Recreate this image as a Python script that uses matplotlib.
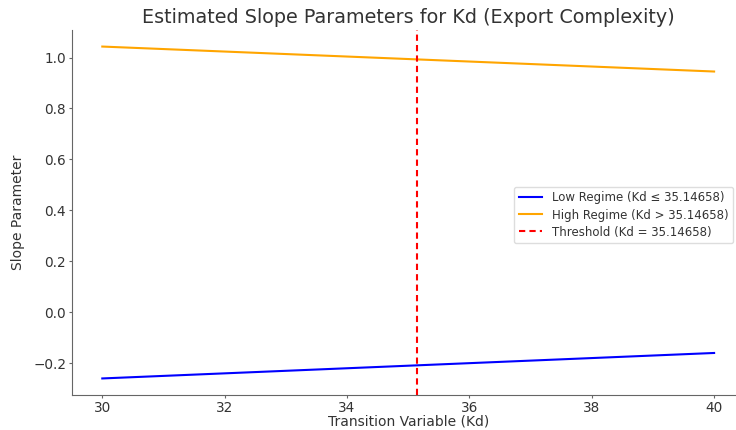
import matplotlib
matplotlib.use('agg')
import matplotlib.pyplot as plt

# values
threshold = 35.14658
kd_range = [30, 40]
low_slope = [-0.26, -0.16]
high_slope = [1.043, 0.945]

fig = plt.figure(figsize=(7.36, 4.30), dpi=100)
ax = fig.add_axes([71.7 / 736, 35 / 430, 673 / 736, 365 / 430])

ax.plot(kd_range, low_slope, color='blue', lw=1.5,
        label='Low Regime (Kd \u2264 %.5f)' % threshold)
ax.plot(kd_range, high_slope, color='orange', lw=1.5,
        label='High Regime (Kd > %.5f)' % threshold)
ax.axvline(threshold, color='red', ls='--', lw=1.5, dashes=(3, 2),
           label='Threshold (Kd = %.5f)' % threshold)

ax.set_xlim(29.5, 40.5)
ax.set_ylim(-0.325, 1.108)
ax.set_xticks([30, 32, 34, 36, 38, 40])
ax.set_yticks([-0.2, 0.0, 0.2, 0.4, 0.6, 0.8, 1.0])
ax.set_yticklabels(['\u22120.2', '0.0', '0.2', '0.4', '0.6', '0.8', '1.0'])

ax.set_title('Estimated Slope Parameters for Kd (Export Complexity)',
             fontsize=13.8, color='#333333', pad=5)
ax.set_xlabel('Transition Variable (Kd)', fontsize=10, color='#333333', labelpad=0)
ax.set_ylabel('Slope Parameter', fontsize=10, color='#333333', labelpad=6)

for side in ['top', 'right']:
    ax.spines[side].set_visible(False)
for side in ['left', 'bottom']:
    ax.spines[side].set_color('#666666')
ax.tick_params(colors='#666666', labelcolor='#333333', labelsize=9.8,
               length=2.5, pad=1.5)

leg = ax.legend(loc='center left', bbox_to_anchor=(514 / 736, 0.5),
                bbox_transform=fig.transFigure, borderaxespad=0,
                fontsize=8.5, framealpha=1, edgecolor='#dddddd',
                labelspacing=0.35)
for t in leg.get_texts():
    t.set_color('#333333')

fig.savefig('out.png', dpi=100)
